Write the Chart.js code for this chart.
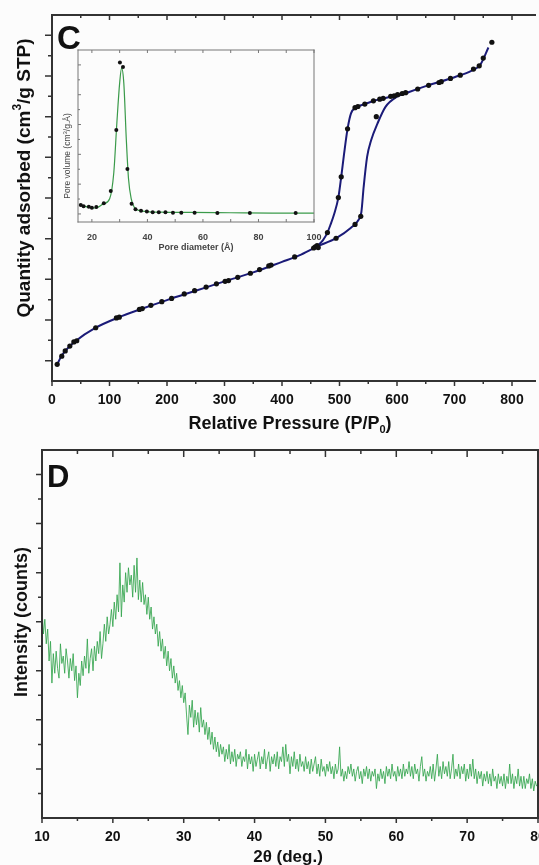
<!DOCTYPE html>
<html>
<head>
<meta charset="utf-8">
<script src="https://cdn.jsdelivr.net/npm/chart.js@4.4.1/dist/chart.umd.min.js"></script>
<style>
  html, body { margin: 0; padding: 0; background: #fcfcfc; }
  #wrap { position: relative; width: 539px; height: 865px; overflow: hidden; }
  canvas { position: absolute; }
</style>
</head>
<body>
<div id="wrap">
  <canvas id="iso" style="left:0;top:0" width="539" height="440"></canvas>
  <canvas id="psd" style="left:58px;top:45px" width="270" height="212"></canvas>
  <canvas id="xrd" style="left:0;top:440px" width="539" height="425"></canvas>
</div>
<script>
"use strict";

const FONT = 'Arial, "Liberation Sans", sans-serif';
const NAVY = "#1b1b78";

// Panel C: isotherm markers
const isoP = [9,17,23,31,38,43,76,112,117,152,157,172,191,208,230,248,268,286,301,307,323,345,361,377,381,422,455,458,461,463,479,494,527,537,564,498,503,514,527,532,544,559,570,576,589,595,601,609,615,636,655,673,677,693,710,733,743,750,765];
const isoQ = [0.41,0.61,0.74,0.86,0.96,0.99,1.31,1.55,1.57,1.76,1.78,1.86,1.95,2.03,2.14,2.22,2.31,2.39,2.45,2.47,2.55,2.65,2.74,2.83,2.85,3.05,3.27,3.30,3.33,3.28,3.65,3.51,3.85,4.05,6.50,4.51,5.02,6.20,6.72,6.75,6.81,6.89,6.93,6.95,7.00,7.01,7.04,7.07,7.09,7.18,7.27,7.34,7.36,7.44,7.52,7.67,7.75,7.94,8.33];

// Panel C: fitted curves (adsorption / desorption branch)
const adsP = [9,15,25,40,76,115,155,200,250,300,350,400,430,460,495,520,533,538,542,548,555,566,580,600,620,650,700,730,745,759];
const adsQ = [0.40,0.58,0.77,0.97,1.31,1.56,1.77,1.99,2.22,2.45,2.67,2.93,3.09,3.30,3.52,3.77,3.96,4.15,4.77,5.51,5.92,6.33,6.74,6.99,7.10,7.25,7.47,7.63,7.78,8.20];
const desP = [460,471,479,484,491,498,503,508,514,520,528,544,560,580,600,620];
const desQ = [3.30,3.46,3.65,3.83,4.12,4.51,5.02,5.59,6.20,6.58,6.72,6.81,6.89,6.96,7.03,7.10];

const isoXTicks = [0,100,200,300,400,500,600,700,800];
const isoXMinor = [50,150,250,350,450,550,650,750];
const isoYMajor = [0.5,1.5,2.5,3.5,4.5,5.5,6.5,7.5,8.5];
const isoYMinor = [1,2,3,4,5,6,7,8];

// Inset: pore size distribution
const poreD = [16.0,17.0,18.9,20.0,21.6,24.3,26.8,28.8,30.1,31.2,32.8,34.3,35.7,37.7,39.8,41.9,44.1,46.5,49.2,52.2,57.0,65.2,76.9,93.4];
const poreV = [0.30,0.26,0.24,0.21,0.23,0.36,0.77,2.82,5.08,4.93,1.51,0.34,0.16,0.11,0.08,0.06,0.06,0.06,0.04,0.04,0.04,0.03,0.03,0.03];
const fitD = [15.5,17,19,20.5,22,24,26.4,27.9,29.0,30.0,30.7,31.5,32.4,33.2,34.2,35.3,37,40,45,55,70,85,100];
const fitV = [0.32,0.27,0.22,0.20,0.22,0.33,0.51,1.39,3.06,4.39,4.89,4.39,2.50,1.17,0.50,0.22,0.12,0.08,0.06,0.05,0.04,0.03,0.03];

const poreXTicks = [20,40,60,80,100];
const poreXMinor = [30,50,70,90];
const poreYMajor = [0,1,2,3,4,5];
const poreYMinor = [0.5,1.5,2.5,3.5,4.5];

// Panel D: XRD pattern, 2theta from 10 to 80 in 0.2 deg steps (5 per degree)
const xrdStart = 10;
const xrdStep = 0.2;
const xrdI = [
  4.25,3.75,4.05,3.55,3.85, 3.20,3.60,2.75,3.35,2.95, 3.40,3.05,2.85,3.55,3.15, 3.30,2.95,3.45,3.20,2.85,
  3.25,3.00,3.35,2.80,3.10, 2.45,2.95,2.70,3.20,2.90, 3.30,3.05,3.65,2.95,3.25, 3.45,3.00,3.50,3.20,3.60,
  3.35,3.80,3.25,3.55,3.95, 3.60,4.10,3.75,3.95,4.25, 3.90,4.40,4.05,4.55,4.20, 5.20,4.10,4.75,4.40,5.00,
  4.60,5.10,4.75,4.95,4.50, 5.15,4.60,5.30,4.45,4.85, 4.40,4.80,4.35,4.55,4.15, 4.50,4.05,4.30,3.85,4.10,
  3.75,3.95,3.50,3.80,3.40, 3.65,3.25,3.50,3.10,3.40, 3.00,3.25,2.85,3.10,2.75, 2.95,2.60,2.80,2.45,2.70,
  2.35,2.55,2.10,1.70,2.30, 2.05,2.40,1.85,2.20,1.90, 2.15,1.75,2.25,1.85,2.00, 1.70,1.95,1.60,1.85,1.50,
  1.75,1.40,1.65,1.35,1.55, 1.25,1.50,1.30,1.45,1.15, 1.40,1.20,1.50,1.10,1.35, 1.15,1.40,1.05,1.30,1.20,
  1.35,1.05,1.25,1.15,1.40, 1.00,1.30,1.10,1.25,0.95, 1.30,1.05,1.20,1.35,1.00, 1.25,1.10,1.40,1.00,1.20,
  1.35,0.95,1.25,1.10,1.30, 1.05,1.35,1.00,1.25,1.15, 1.45,1.05,1.50,1.15,1.30, 0.90,1.25,1.05,1.35,1.00,
  1.20,0.95,1.30,1.05,1.15, 0.95,1.25,1.00,1.15,0.90, 1.20,0.95,1.10,1.25,0.90, 1.10,0.85,1.20,0.95,1.05,
  0.85,1.10,0.95,1.15,0.90, 1.05,0.80,1.10,0.90,1.00, 1.45,0.85,1.00,0.75,0.95, 0.80,1.05,0.90,1.10,0.85,
  1.00,0.75,0.95,1.05,0.80, 0.95,0.70,1.00,0.85,1.05, 0.80,1.00,0.75,0.95,0.85, 1.00,0.60,0.90,0.75,1.00,
  0.80,0.95,0.70,1.05,0.85, 1.00,0.80,1.10,0.85,0.95, 0.75,1.05,0.85,1.00,0.80, 1.10,0.85,1.00,0.90,1.15,
  0.85,1.05,0.80,1.10,0.90, 1.00,0.75,1.05,1.25,0.85, 1.00,0.75,0.95,0.85,1.05, 0.80,1.10,0.75,1.00,1.30,
  0.85,1.05,0.80,1.15,0.90, 1.05,0.85,1.15,0.80,1.00, 1.30,0.80,1.00,0.85,1.10, 0.80,1.05,0.90,1.10,0.75,
  1.00,0.80,1.10,0.85,1.20, 0.80,1.00,0.70,0.95,0.80, 0.95,0.65,0.90,0.75,0.95, 0.70,0.90,0.65,1.00,0.75,
  0.85,0.60,0.90,0.70,0.85, 0.65,0.90,0.60,0.85,0.70, 1.10,0.70,0.90,0.60,0.85, 0.70,1.00,0.65,0.85,0.60,
  0.85,0.60,0.80,0.70,0.90, 0.60,0.80,0.55,0.75,0.65, 0.70
];

const xrdXTicks = [10,20,30,40,50,60,70,80];
const xrdXMinor = [15,25,35,45,55,65,75];
const xrdYMajor = [1,2,3,4,5,6,7];
const xrdYMinor = [0.5,1.5,2.5,3.5,4.5,5.5,6.5];

function toXY(xs, ys) {
  return xs.map((x, i) => ({ x: x, y: ys[i] }));
}

function drawText(ctx, t) {
  ctx.save();
  ctx.translate(t.x, t.y);
  if (t.rot) ctx.rotate(t.rot);
  ctx.fillStyle = t.color || "#111";
  ctx.textBaseline = t.baseline || "middle";
  ctx.textAlign = "left";
  let total = 0;
  for (const p of t.parts) {
    ctx.font = p.font || t.font;
    total += ctx.measureText(p.t).width;
  }
  let x = t.align === "left" ? 0 : -total / 2;
  for (const p of t.parts) {
    ctx.font = p.font || t.font;
    ctx.fillText(p.t, x, p.dy || 0);
    x += ctx.measureText(p.t).width;
  }
  ctx.restore();
}

// frame lines, tick marks and free text
const framePlugin = {
  id: "frame",
  afterDraw(chart, args, opts) {
    const { ctx, chartArea: a, scales } = chart;
    ctx.save();
    ctx.strokeStyle = opts.color;
    ctx.lineWidth = opts.width;
    ctx.lineCap = "square";
    ctx.beginPath();
    if (opts.sides.includes("top")) { ctx.moveTo(a.left, a.top); ctx.lineTo(a.right, a.top); }
    if (opts.sides.includes("bottom")) { ctx.moveTo(a.left, a.bottom); ctx.lineTo(a.right, a.bottom); }
    if (opts.sides.includes("left")) { ctx.moveTo(a.left, a.top); ctx.lineTo(a.left, a.bottom); }
    if (opts.sides.includes("right")) { ctx.moveTo(a.right, a.top); ctx.lineTo(a.right, a.bottom); }
    ctx.stroke();

    ctx.lineWidth = opts.tickWidth || opts.width;
    ctx.lineCap = "butt";
    ctx.beginPath();
    for (const t of opts.ticks) {
      for (const v of t.values) {
        if (t.side === "bottom" || t.side === "top") {
          const px = scales.x.getPixelForValue(v);
          const y0 = t.side === "bottom" ? a.bottom : a.top;
          const dir = (t.side === "bottom") === t.out ? 1 : -1;
          ctx.moveTo(px, y0);
          ctx.lineTo(px, y0 + dir * t.len);
        } else {
          const py = scales.y.getPixelForValue(v);
          const x0 = t.side === "left" ? a.left : a.right;
          const dir = (t.side === "left") === t.out ? -1 : 1;
          ctx.moveTo(x0, py);
          ctx.lineTo(x0 + dir * t.len, py);
        }
      }
    }
    ctx.stroke();
    ctx.restore();

    for (const t of opts.texts || []) drawText(ctx, t);
  }
};
Chart.register(framePlugin);

function tickFont(size) {
  return { family: FONT, size: size, weight: "bold" };
}

// Panel C: nitrogen isotherm
new Chart(document.getElementById("iso"), {
  type: "scatter",
  data: {
    datasets: [
      { data: toXY(isoP, isoQ), pointRadius: 2.6, backgroundColor: "#111", borderWidth: 0, order: 0 },
      { type: "line", data: toXY(adsP, adsQ), borderColor: NAVY, borderWidth: 2, pointRadius: 0, cubicInterpolationMode: "monotone", fill: false, order: 1 },
      { type: "line", data: toXY(desP, desQ), borderColor: NAVY, borderWidth: 2, pointRadius: 0, cubicInterpolationMode: "monotone", fill: false, order: 1 }
    ]
  },
  options: {
    responsive: false,
    animation: false,
    events: [],
    layout: { padding: { top: 15, right: 0, left: 0, bottom: 0 } },
    plugins: {
      legend: { display: false },
      tooltip: { enabled: false },
      frame: {
        color: "#333", width: 2, tickWidth: 1.5,
        sides: ["top", "left", "bottom"],
        ticks: [
          { side: "bottom", values: isoXTicks, len: 5, out: true },
          { side: "bottom", values: isoXMinor, len: 3, out: true },
          { side: "top", values: isoXTicks, len: 5, out: false },
          { side: "top", values: isoXMinor, len: 3, out: false },
          { side: "left", values: isoYMajor, len: 7, out: true },
          { side: "left", values: isoYMinor, len: 4, out: true }
        ],
        texts: [
          { parts: [{ t: "C" }], x: 57, y: 49, font: "bold 33px " + FONT, align: "left", baseline: "alphabetic" },
          { parts: [{ t: "Quantity adsorbed (cm" }, { t: "3", font: "bold 12px " + FONT, dy: -7 }, { t: "/g STP)" }], x: 25, y: 178, rot: -Math.PI / 2, font: "bold 19px " + FONT },
          { parts: [{ t: "Relative Pressure (P/P" }, { t: "0", font: "bold 11px " + FONT, dy: 6 }, { t: ")" }], x: 290, y: 424, font: "bold 18px " + FONT }
        ]
      }
    },
    scales: {
      x: {
        type: "linear", min: 0, max: 840,
        grid: { display: false, drawTicks: false },
        border: { display: false },
        afterBuildTicks: (s) => { s.ticks = isoXTicks.map((v) => ({ value: v })); },
        ticks: { autoSkip: false, maxRotation: 0, padding: 11, color: "#111", font: tickFont(14) },
        afterFit: (s) => { s.height = 59; s.paddingLeft = 0; s.paddingRight = 0; }
      },
      y: {
        type: "linear", min: 0, max: 9,
        grid: { display: false, drawTicks: false },
        border: { display: false },
        ticks: { display: false },
        afterFit: (s) => { s.width = 52; }
      }
    }
  }
});

// Inset: pore size distribution
new Chart(document.getElementById("psd"), {
  type: "scatter",
  data: {
    datasets: [
      { data: toXY(poreD, poreV), pointRadius: 2, backgroundColor: "#111", borderWidth: 0, order: 0 },
      { type: "line", data: toXY(fitD, fitV), borderColor: "#3a9a4a", borderWidth: 1.2, pointRadius: 0, cubicInterpolationMode: "monotone", fill: false, order: 1 }
    ]
  },
  options: {
    responsive: false,
    animation: false,
    events: [],
    layout: { padding: { top: 5, right: 14, left: 0, bottom: 0 } },
    plugins: {
      legend: { display: false },
      tooltip: { enabled: false },
      frame: {
        color: "#777", width: 1,
        sides: ["top", "left", "bottom", "right"],
        ticks: [
          { side: "top", values: poreXTicks.concat(poreXMinor), len: 3, out: false },
          { side: "bottom", values: poreXTicks.concat(poreXMinor), len: 3, out: false },
          { side: "left", values: poreYMajor, len: 3, out: false },
          { side: "left", values: poreYMinor, len: 2, out: false }
        ],
        texts: [
          { parts: [{ t: "Pore diameter (\u00c5)" }], x: 138, y: 203, font: "bold 9px " + FONT, color: "#444" },
          { parts: [{ t: "Pore volume (cm" }, { t: "3", font: "6px " + FONT, dy: -3 }, { t: "/g.\u00c5)" }], x: 10, y: 111, rot: -Math.PI / 2, font: "8.5px " + FONT, color: "#444" }
        ]
      }
    },
    scales: {
      x: {
        type: "linear", min: 15, max: 100,
        grid: { display: false, drawTicks: false },
        border: { display: false },
        afterBuildTicks: (s) => { s.ticks = poreXTicks.map((v) => ({ value: v })); },
        ticks: { autoSkip: false, maxRotation: 0, padding: 10, color: "#444", font: tickFont(9) },
        afterFit: (s) => { s.height = 35; s.paddingLeft = 0; s.paddingRight = 0; }
      },
      y: {
        type: "linear", min: -0.27, max: 5.5,
        grid: { display: false, drawTicks: false },
        border: { display: false },
        ticks: { display: false },
        afterFit: (s) => { s.width = 20; }
      }
    }
  }
});

// Panel D: XRD pattern
new Chart(document.getElementById("xrd"), {
  type: "line",
  data: {
    datasets: [
      {
        data: xrdI.map((v, i) => ({ x: xrdStart + i * xrdStep, y: v })),
        borderColor: "rgba(52,165,78,0.85)",
        borderWidth: 1,
        pointRadius: 0,
        tension: 0,
        fill: false
      }
    ]
  },
  options: {
    responsive: false,
    animation: false,
    events: [],
    layout: { padding: { top: 10, right: 1, left: 0, bottom: 0 } },
    plugins: {
      legend: { display: false },
      tooltip: { enabled: false },
      frame: {
        color: "#333", width: 2, tickWidth: 1.5,
        sides: ["top", "left", "bottom", "right"],
        ticks: [
          { side: "bottom", values: xrdXTicks, len: 5, out: true },
          { side: "bottom", values: xrdXMinor, len: 3, out: true },
          { side: "top", values: xrdXTicks, len: 7, out: false },
          { side: "top", values: xrdXMinor, len: 4, out: false },
          { side: "left", values: xrdYMajor, len: 6, out: true },
          { side: "left", values: xrdYMinor, len: 4, out: true }
        ],
        texts: [
          { parts: [{ t: "D" }], x: 47, y: 47, font: "bold 31px " + FONT, align: "left", baseline: "alphabetic" },
          { parts: [{ t: "Intensity (counts)" }], x: 22, y: 182, rot: -Math.PI / 2, font: "bold 18px " + FONT },
          { parts: [{ t: "2\u03b8 (deg.)" }], x: 288, y: 417, font: "bold 17px " + FONT }
        ]
      }
    },
    scales: {
      x: {
        type: "linear", min: 10, max: 80,
        grid: { display: false, drawTicks: false },
        border: { display: false },
        afterBuildTicks: (s) => { s.ticks = xrdXTicks.map((v) => ({ value: v })); },
        ticks: { autoSkip: false, maxRotation: 0, padding: 11, color: "#111", font: tickFont(14) },
        afterFit: (s) => { s.height = 47; s.paddingLeft = 0; s.paddingRight = 0; }
      },
      y: {
        type: "linear", min: 0, max: 7.5,
        grid: { display: false, drawTicks: false },
        border: { display: false },
        ticks: { display: false },
        afterFit: (s) => { s.width = 42; }
      }
    }
  }
});
</script>
</body>
</html>
